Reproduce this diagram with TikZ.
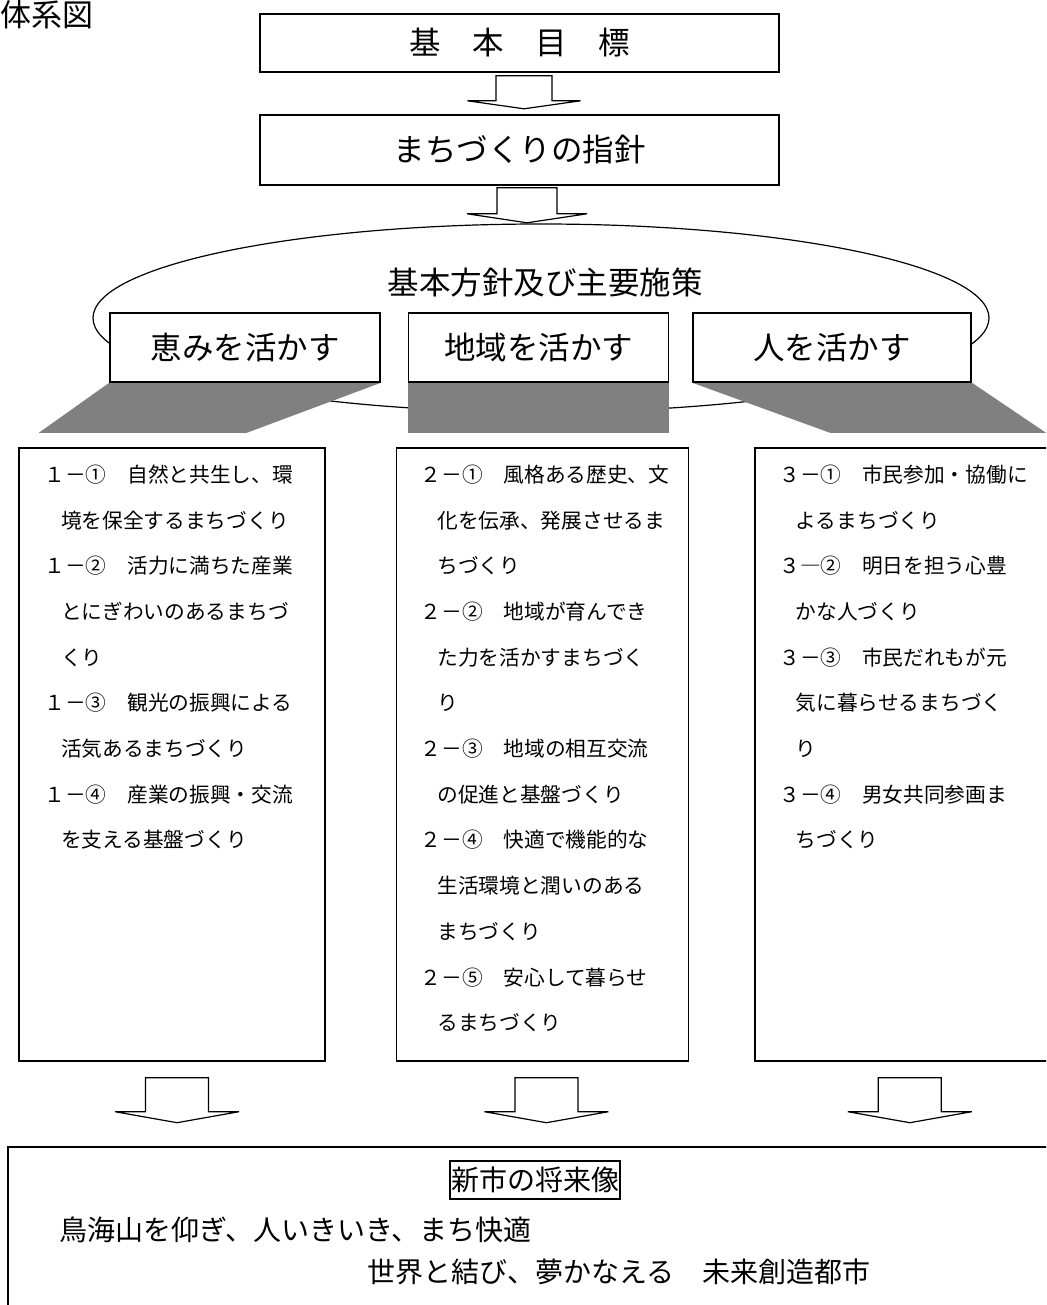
\documentclass[tikz,border=0pt]{standalone}
\usepackage{fontspec}
\setmainfont{Noto Sans CJK JP}
\usetikzlibrary{
  backgrounds,
  calc,
  positioning,
  shapes.geometric,
}
\definecolor{shadow}{RGB}{128,128,128}
\tikzstyle{frame} = [draw, line width=1.6pt, fill=white, inner sep=0pt]
\tikzstyle{heading} = [frame, font=\fontsize{31.5}{36}\selectfont]
\tikzstyle{column} = [frame, line width=1.4pt, minimum height=613pt]
\tikzstyle{item} = [anchor=base west, inner sep=0pt,
  font=\fontsize{20.7}{24}\selectfont]
\tikzstyle{motto} = [anchor=west, inner sep=0pt,
  font=\fontsize{28}{32}\selectfont]
\tikzset{
  pics/flow/.style args={#1/#2/#3/#4}{code={
    \draw [line width=1.2pt, fill=white]
      (-#1,0) -- (#1,0) -- (#1,#3) -- (#2,#3) -- (0,#3+#4)
      -- (-#2,#3) -- (-#1,#3) -- cycle;
  }},
}
\newcommand\rowindent{\hspace*{.8em}}

\begin{document}
\begin{tikzpicture}[x=1pt, y=-1pt]
    \useasboundingbox (0,0) rectangle (1046,1305);
    \clip (0,0) rectangle (1046,1305);
    \node [anchor=west, inner sep=0pt, font=\fontsize{31}{36}\selectfont]
          (title) at (0,15) {体系図};
    \node [heading, minimum width=519pt, minimum height=58pt]
          (goal) at (519.5,43) {基　本　目　標};
    \node [heading, minimum width=519pt, minimum height=70pt]
          (guide) at (519.5,150) {まちづくりの指針};
    \pic at ($(goal.south)+(4.5,3)$) {flow={28/56.5/25/8}};
    \pic at ($(guide.south)+(7.5,2)$) {flow={30/60/26/9}};
    \node [inner sep=0pt, font=\fontsize{31.5}{36}\selectfont]
          (policy) at (545,283) {基本方針及び主要施策};
    \node [heading, minimum width=270pt, minimum height=69pt]
          (blessing) at (245,347.5) {恵みを活かす};
    \node [heading, minimum width=260pt, minimum height=69pt,
           right=27pt of blessing] (region) {地域を活かす};
    \node [heading, minimum width=278pt, minimum height=69pt,
           right=23pt of region] (people) {人を活かす};
    \begin{scope}[on background layer]
      \node [draw, ellipse, line width=1.2pt, minimum width=896pt,
             minimum height=188pt] (ring) at (541,318) {};
      \fill [shadow] (blessing.south west) -- (blessing.south east)
            -- ++(-134,50) -- ++(-208,0) -- cycle;
      \fill [shadow] (region.south west)
            rectangle ($(region.south east)+(0,50)$);
      \fill [shadow] (people.south west) -- (people.south east)
            -- ++(74,50) -- ++(-216,0) -- cycle;
    \end{scope}
    \node [column, minimum width=306pt] (col1) at (172,754.5) {};
    \node [column, minimum width=292pt, right=70pt of col1] (col2) {};
    \node [column, minimum width=310pt, right=65pt of col2] (col3) {};
    \foreach \row [count=\i] in {
        {１－①　自然と共生し、環},
        {\rowindent 境を保全するまちづくり},
        {１－②　活力に満ちた産業},
        {\rowindent とにぎわいのあるまちづ},
        {\rowindent くり},
        {１－③　観光の振興による},
        {\rowindent 活気あるまちづくり},
        {１－④　産業の振興・交流},
        {\rowindent を支える基盤づくり}}
      \node [item] (c1-\i) at ($(col1.north west)+(26,{35+45.7*(\i-1)})$) {\row};
    \foreach \row [count=\i] in {
        {２－①　風格ある歴史、文},
        {\rowindent 化を伝承、発展させるま},
        {\rowindent ちづくり},
        {２－②　地域が育んでき},
        {\rowindent た力を活かすまちづく},
        {\rowindent り},
        {２－③　地域の相互交流},
        {\rowindent の促進と基盤づくり},
        {２－④　快適で機能的な},
        {\rowindent 生活環境と潤いのある},
        {\rowindent まちづくり},
        {２－⑤　安心して暮らせ},
        {\rowindent るまちづくり}}
      \node [item] (c2-\i) at ($(col2.north west)+(25,{35+45.7*(\i-1)})$) {\row};
    \foreach \row [count=\i] in {
        {３－①　市民参加・協働に},
        {\rowindent よるまちづくり},
        {３―②　明日を担う心豊},
        {\rowindent かな人づくり},
        {３－③　市民だれもが元},
        {\rowindent 気に暮らせるまちづく},
        {\rowindent り},
        {３－④　男女共同参画ま},
        {\rowindent ちづくり}}
      \node [item] (c3-\i) at ($(col3.north west)+(25,{35+45.7*(\i-1)})$) {\row};
    \pic at ($(col1.south)+(5,16)$) {flow={31.5/62/34/11}};
    \pic at ($(col2.south)+(4,16)$) {flow={31.5/62/34/11}};
    \pic at ($(col3.south)+(0,16)$) {flow={31.5/62/34/11}};
    \node [frame, minimum width=1060pt, minimum height=200pt]
          (vision) at (538,1247) {};
    \node [draw, line width=1.2pt, inner xsep=1pt, inner ysep=0pt,
           minimum height=38pt, font=\fontsize{28}{32}\selectfont]
          (future) at (535,1180) {新市の将来像};
    \node [motto] (motto1) at (59,1230) {鳥海山を仰ぎ、人いきいき、まち快適};
    \node [motto] (motto2) at (367,1272) {世界と結び、夢かなえる　未来創造都市};
  \end{tikzpicture}
\end{document}
